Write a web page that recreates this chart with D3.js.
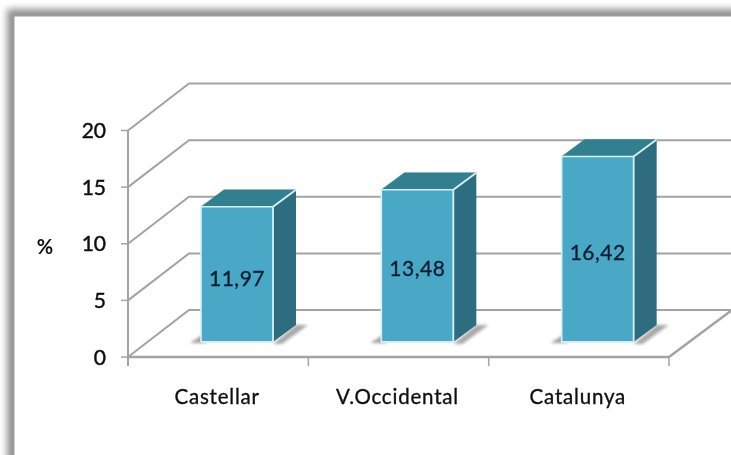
<!DOCTYPE html>
<html><head><meta charset="utf-8">
<script src="https://cdn.jsdelivr.net/npm/d3@7"></script>
<style>html,body{margin:0;padding:0;background:#fff;overflow:hidden}svg{display:block}</style>
</head><body><div id="c"></div>
<script>
const categories = ["Castellar","V.Occidental","Catalunya"];
const values = [11.97,13.48,16.42];
const valueLabels = ["11,97","13,48","16,42"];
const yTicks = [0,5,10,15,20];
const yTitle = "%";

const W=731,H=455;
const svg=d3.select("#c").append("svg").attr("width",W).attr("height",H);
const defs=svg.append("defs");
const blur=defs.append("filter").attr("id","soft").attr("x","-5%").attr("y","-5%").attr("width","110%").attr("height","110%");
blur.append("feGaussianBlur").attr("stdDeviation",0.45);
const shBlur=defs.append("filter").attr("id","shb").attr("x","-40%").attr("y","-60%").attr("width","180%").attr("height","220%");
shBlur.append("feGaussianBlur").attr("stdDeviation",1.4);
const frameBlur=defs.append("filter").attr("id","fb").attr("x","-10%").attr("y","-10%").attr("width","120%").attr("height","120%");
frameBlur.append("feGaussianBlur").attr("stdDeviation",3.5);

// frame with soft shadow
svg.append("rect").attr("x",7).attr("y",9).attr("width",900).attr("height",700).attr("fill","#909090").attr("filter","url(#fb)");
svg.append("rect").attr("x",13.5).attr("y",15.5).attr("width",900).attr("height",700).attr("fill","#fff").attr("stroke","#9c9c9c").attr("stroke-width",2);

const y=d3.scaleLinear().domain([0,20]).range([357,130.5]);
const x=d3.scaleBand().domain(categories).range([128,669]);
const depth={dx:61,dy:-47};
const barDepth={dx:23,dy:-17};
const bw=72, floorY=342, barOff=73;
const yBar=d3.scaleLinear().domain([0,20]).range([floorY,floorY-226]);

const g=svg.append("g").attr("filter","url(#soft)");
const grid="#a3a3a3";
const line=d3.line();
const font="Lato, 'Open Sans', sans-serif";
yTicks.slice(1).forEach(t=>{
  const p=y(t);
  g.append("path").attr("d",line([[128,p],[128+depth.dx,p+depth.dy],[W+5,p+depth.dy]]))
   .attr("fill","none").attr("stroke",grid).attr("stroke-width",2);
});
const f=y(0);
g.append("path").attr("d",line([[128,f],[128+depth.dx,f+depth.dy],[669+depth.dx+2,f+depth.dy]])).attr("fill","none").attr("stroke",grid).attr("stroke-width",2);
g.append("path").attr("d",line([[128,f],[669,f],[669+depth.dx+2,f+depth.dy]])).attr("fill","none").attr("stroke",grid).attr("stroke-width",2.4);
g.append("path").attr("d",line([[128,y(20)],[128,f+9]])).attr("stroke",grid).attr("stroke-width",2).attr("fill","none");
g.append("path").attr("d",line([[669,f],[669,f+9]])).attr("stroke",grid).attr("stroke-width",1.5).attr("fill","none");
categories.slice(1).forEach(c=>{
  g.append("path").attr("d",line([[x(c),f],[x(c),f+9]])).attr("stroke",grid).attr("stroke-width",1.5).attr("fill","none");
});
yTicks.forEach(t=>{
  g.append("path").attr("d",line([[121,y(t)],[128,y(t)]])).attr("stroke",grid).attr("stroke-width",1.5).attr("fill","none");
  g.append("text").attr("x",106).attr("y",y(t)).attr("dy","0.36em").attr("text-anchor","end")
   .attr("font-family",font).attr("font-size",21).attr("stroke","#111").attr("stroke-width",.45).attr("fill","#111").text(t);
});
g.append("text").attr("x",45).attr("y",247).attr("dy","0.36em").attr("text-anchor","middle")
 .attr("font-family",font).attr("font-size",20).attr("font-weight",700).attr("fill","#111").text(yTitle);

categories.forEach((c,i)=>{
  const x0=x(c)+barOff, x1=x0+bw, yt=yBar(values[i]), yb=floorY;
  const bar=g.append("g");
  bar.append("path").attr("d",line([[x0-11,yb+1],[x0+3,yb-8],[x0+6,yb+1]])).attr("fill","#a0a0a0").attr("filter","url(#shb)");
  bar.append("path").attr("d",line([[x1,yb+2],[x1+barDepth.dx,yb+barDepth.dy],[x1+barDepth.dx+12,yb+barDepth.dy],[x1+9,yb+2]])).attr("fill","#a8a8a8").attr("filter","url(#shb)");
  const edge="#d8f0f5";
  bar.append("path").attr("d",line([[x0,yt],[x0+barDepth.dx,yt+barDepth.dy],[x1+barDepth.dx,yt+barDepth.dy],[x1,yt]])+"Z")
    .attr("fill","#32808f").attr("stroke","#32808f").attr("stroke-width",.5);
  bar.append("path").attr("d",line([[x1,yt],[x1+barDepth.dx,yt+barDepth.dy],[x1+barDepth.dx,yb+barDepth.dy],[x1,yb]])+"Z")
    .attr("fill","#2f6d80");
  bar.append("rect").attr("x",x0).attr("y",yt).attr("width",bw).attr("height",yb-yt).attr("fill","#4aa8c6");
  bar.append("path").attr("d",line([[x0,yb],[x1,yb],[x1,yt],[x1+barDepth.dx,yt+barDepth.dy]])).attr("fill","none").attr("stroke",edge).attr("stroke-width",1.8);
  bar.append("path").attr("d",line([[x0,yb],[x0,yt],[x1,yt]])).attr("fill","none").attr("stroke",edge).attr("stroke-width",1.6);
  g.append("text").attr("x",x0+bw/2).attr("y",[278,268,252][i]).attr("dy","0.36em").attr("text-anchor","middle")
   .attr("font-family",font).attr("font-size",21).attr("letter-spacing","0.5").attr("stroke","#0c1f33").attr("stroke-width",.35).attr("fill","#0c1f33").text(valueLabels[i]);
  g.append("text").attr("x",x(c)+x.bandwidth()/2-1).attr("y",397).attr("dy","0.36em").attr("text-anchor","middle")
   .attr("font-family",font).attr("font-size",20.5).attr("letter-spacing","0.8").attr("stroke","#111").attr("stroke-width",.35).attr("fill","#111").text(c);
});
</script></body></html>
